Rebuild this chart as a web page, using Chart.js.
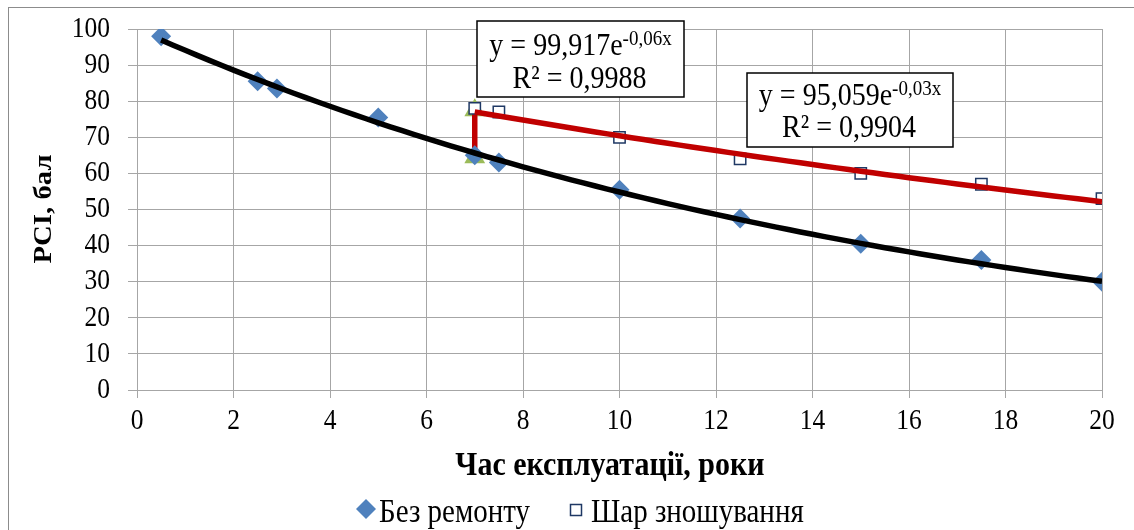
<!DOCTYPE html>
<html>
<head>
<meta charset="utf-8">
<script src="https://cdn.jsdelivr.net/npm/chart.js@4.4.0/dist/chart.umd.min.js"></script>
<style>
    html, body { margin: 0; padding: 0; background: #fff; overflow: hidden; }
    #wrap { position: relative; width: 1134px; height: 530px; overflow: hidden; }
    #frame { position: absolute; left: 8px; top: 7px; width: 1200px; height: 600px; border: 1px solid #8c8c8c; }
    canvas { position: absolute; left: 0; top: 0; }
</style>
</head>
<body>
<div id="wrap">
    <div id="frame"></div>
    <canvas id="chart" width="1134" height="530"></canvas>
</div>
<script>
// Без ремонту
const yearsNoRepair = [0.5, 2.5, 2.9, 5, 7, 7.5, 10, 12.5, 15, 17.5, 20];
const pciNoRepair = [98, 85.5, 83.5, 75.5, 65, 63, 55.5, 47.5, 40.5, 36, 30];

// Шар зношування
const yearsLayer = [7, 7.5, 10, 12.5, 15, 17.5, 20];
const pciLayer = [78, 77, 70, 64, 60, 57, 53];

// момент ремонту (зелені трикутники) і червоний стрибок
const repairX = [7, 7];
const repairY = [64.5, 77.5];
const jumpY = [65, 77];

// тренди з підписів на графіку: y = a * e^(b*x)
const trendNoRepair = { a: 99.917, b: -0.06, from: 0.5, to: 20, label: '99,917', pow: '-0,06x', r2: '0,9988' };
const trendLayer = { a: 95.059, b: -0.03, from: 7, to: 20, label: '95,059', pow: '-0,03x', r2: '0,9904' };

const FONT = '"Liberation Serif", "Times New Roman", serif';
const GRID = '#a6a6a6';
const SY = 1.15; // текст в оригіналі трохи витягнутий по вертикалі

function trendPoints(t) {
    const pts = [];
    for (let x = t.from; x <= t.to + 1e-9; x += 0.25) {
        pts.push({ x: x, y: t.a * Math.exp(t.b * x) });
    }
    return pts;
}

function zip(xs, ys) {
    return xs.map((x, i) => ({ x: x, y: ys[i] }));
}

function text(ctx, str, x, y, font, align, baseline) {
    ctx.save();
    ctx.translate(x, y);
    ctx.scale(1, SY);
    ctx.font = font;
    ctx.textAlign = align || 'left';
    ctx.textBaseline = baseline || 'alphabetic';
    ctx.fillStyle = '#000';
    ctx.fillText(str, 0, 0);
    ctx.restore();
}

function drawEquation(ctx, t, box) {
    ctx.save();
    ctx.fillStyle = '#fff';
    ctx.fillRect(box.x, box.y, box.w, box.h);
    ctx.strokeStyle = '#000';
    ctx.lineWidth = 1.5;
    ctx.strokeRect(box.x, box.y, box.w, box.h);
    const main = 'y = ' + t.label + 'e';
    const f1 = `28px ${FONT}`;
    const f2 = `19px ${FONT}`;
    ctx.font = f1;
    const w1 = ctx.measureText(main).width;
    ctx.font = f2;
    const w2 = ctx.measureText(t.pow).width;
    ctx.restore();
    const cx = box.x + box.w / 2;
    const x0 = cx - (w1 + w2) / 2;
    text(ctx, main, x0, box.b1, f1);
    text(ctx, t.pow, x0 + w1, box.b1 - 10, f2);
    text(ctx, 'R² = ' + t.r2, cx - 1, box.b2, f1, 'center');
}

const extras = {
    id: 'extras',
    afterDraw(chart) {
        const ctx = chart.ctx;
        const xs = chart.scales.x;
        const ys = chart.scales.y;

        // підписи поділок по позиціях шкал
        const tickFont = `25.5px ${FONT}`;
        ys.ticks.forEach(t => {
            text(ctx, String(t.value), 110, ys.getPixelForValue(t.value), tickFont, 'right', 'middle');
        });
        xs.ticks.forEach(t => {
            text(ctx, String(t.value), xs.getPixelForValue(t.value), 421, tickFont, 'center', 'middle');
        });

        drawEquation(ctx, trendNoRepair, { x: 477, y: 21, w: 207, h: 76, b1: 55, b2: 88 });
        drawEquation(ctx, trendLayer, { x: 747, y: 73, w: 206, h: 74, b1: 105, b2: 137 });

        text(ctx, 'Час експлуатації, роки', 610, 475, `bold 30px ${FONT}`, 'center');

        ctx.save();
        ctx.translate(45, 209);
        ctx.scale(1, SY);
        ctx.rotate(-Math.PI / 2);
        ctx.font = `bold 25px ${FONT}`;
        ctx.textAlign = 'center';
        ctx.textBaseline = 'middle';
        ctx.fillStyle = '#000';
        ctx.fillText('PCI, бал', 0, 0);
        ctx.restore();

        // легенда
        ctx.save();
        ctx.fillStyle = '#4f81bd';
        ctx.beginPath();
        ctx.moveTo(366, 499); ctx.lineTo(376, 509); ctx.lineTo(366, 519); ctx.lineTo(356, 509);
        ctx.closePath();
        ctx.fill();
        ctx.fillStyle = '#fff';
        ctx.strokeStyle = '#1f3864';
        ctx.lineWidth = 1.5;
        ctx.fillRect(570.5, 504.5, 11, 11);
        ctx.strokeRect(570.5, 504.5, 11, 11);
        ctx.restore();
        text(ctx, 'Без ремонту', 379, 522, `29px ${FONT}`);
        text(ctx, 'Шар зношування', 591, 522, `29px ${FONT}`);
    }
};

new Chart(document.getElementById('chart'), {
    type: 'scatter',
    data: {
        datasets: [
            {
                label: 'Тренд без ремонту',
                data: trendPoints(trendNoRepair),
                showLine: true,
                borderColor: '#000',
                borderWidth: 5.5,
                pointRadius: 0,
                order: 1,
            },
            {
                label: 'Тренд шар зношування',
                data: trendPoints(trendLayer),
                showLine: true,
                borderColor: '#c00000',
                borderWidth: 5.5,
                pointRadius: 0,
                order: 2,
            },
            {
                label: 'Шар зношування',
                data: zip(yearsLayer, pciLayer),
                pointStyle: 'rect',
                pointRadius: 8,
                backgroundColor: '#fff',
                borderColor: '#1f3864',
                borderWidth: 1.5,
                order: 3,
            },
            {
                label: 'Без ремонту',
                data: zip(yearsNoRepair, pciNoRepair),
                pointStyle: 'rectRot',
                pointRadius: 10,
                backgroundColor: '#4f81bd',
                borderColor: '#4f81bd',
                borderWidth: 0,
                order: 4,
            },
            {
                label: 'Ремонт',
                data: zip(repairX, repairY),
                pointStyle: 'triangle',
                pointRadius: 12,
                backgroundColor: '#9bbb59',
                borderColor: '#9bbb59',
                borderWidth: 0,
                order: 6,
            },
            {
                label: 'Стрибок',
                data: zip(repairX, jumpY),
                showLine: true,
                borderColor: '#c00000',
                borderWidth: 5.5,
                pointRadius: 0,
                order: 5,
            },
        ],
    },
    options: {
        responsive: false,
        animation: false,
        devicePixelRatio: 1,
        layout: { padding: { left: 0, top: 29, right: 32, bottom: 0 } },
        plugins: {
            legend: { display: false },
            tooltip: { enabled: false },
        },
        scales: {
            x: {
                type: 'linear',
                min: 0,
                max: 20,
                afterFit: (s) => { s.height = 140; },
                ticks: {
                    stepSize: 2,
                    color: 'rgba(0,0,0,0)',
                    font: { family: 'Liberation Serif', size: 25 },
                },
                grid: { color: GRID, tickLength: 8, tickColor: GRID },
                border: { color: GRID },
            },
            y: {
                min: 0,
                max: 100,
                afterFit: (s) => { s.width = 137; },
                ticks: {
                    stepSize: 10,
                    color: 'rgba(0,0,0,0)',
                    font: { family: 'Liberation Serif', size: 25 },
                },
                grid: { color: GRID, tickLength: 9, tickColor: GRID },
                border: { color: GRID },
            },
        },
    },
    plugins: [extras],
});
</script>
</body>
</html>
